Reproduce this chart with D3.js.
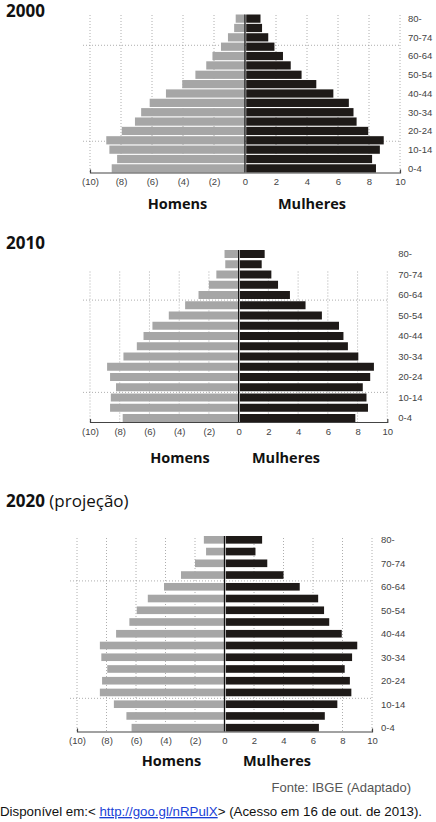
<!DOCTYPE html>
<html>
<head>
<meta charset="utf-8">
<script src="https://cdn.jsdelivr.net/npm/d3@7"></script>
<style>
  body { margin: 0; background: #fff; }
  svg { display: block; }
  .title { font-family: "Open Sans", sans-serif; font-size: 17px; fill: #111; }
  .sex { font-family: "Open Sans", sans-serif; font-weight: 700; font-size: 14.5px; fill: #111; }
  .age { font-family: "Liberation Sans", Arial, sans-serif; font-size: 9.5px; fill: #444; }
  .axis text { font-family: "Liberation Sans", Arial, sans-serif; font-size: 9.5px; fill: #444; }
  .axis path { stroke: #444; stroke-width: 1.2; }
  .grid { stroke: #999; stroke-width: 0.8; stroke-dasharray: 1,2; }
  .foot { font-family: "Liberation Sans", Arial, sans-serif; font-size: 13px; }
</style>
</head>
<body>
<svg id="chart" width="436" height="822"></svg>
<script>
const ageGroups = ["80-","75-79","70-74","65-69","60-64","55-59","50-54","45-49","40-44",
    "35-39","30-34","25-29","20-24","15-19","10-14","5-9","0-4"];
const ageLabels = ["80-","70-74","60-64","50-54","40-44","30-34","20-24","10-14","0-4"];

const tickValues = [-10,-8,-6,-4,-2,0,2,4,6,8,10];
const tickLabels = ["(10)","(8)","(6)","(4)","(2)","0","2","4","6","8","10"];

const homens2000   = [0.6,0.7,1.1,1.55,2.1,2.5,3.2,4.05,5.1,6.15,6.7,7.1,7.95,8.95,8.75,8.25,8.6];
const mulheres2000 = [1.0,1.1,1.5,1.9,2.45,2.95,3.65,4.6,5.7,6.7,7.0,7.2,7.95,8.95,8.7,8.2,8.45];
const homens2010   = [0.95,0.9,1.5,2.0,2.7,3.6,4.7,5.8,6.4,6.85,7.75,8.85,8.65,8.25,8.6,8.65,7.8];
const mulheres2010 = [1.75,1.55,2.2,2.65,3.45,4.5,5.6,6.75,7.05,7.35,8.05,9.1,8.85,8.35,8.6,8.7,7.85];
const homens2020   = [1.4,1.25,2.0,2.95,4.1,5.2,5.95,6.45,7.35,8.45,8.35,7.95,8.3,8.45,7.5,6.65,6.3];
const mulheres2020 = [2.55,2.1,2.9,4.0,5.1,6.35,6.75,7.1,7.95,9.0,8.65,8.15,8.5,8.6,7.65,6.8,6.4];

const colHomens = "#a6a6a6";
const colMulheres = "#1e1a18";

const svg = d3.select("#chart");

const charts = [
    {year: "2000", note: "", homens: homens2000, mulheres: mulheres2000,
     titleY: 16.5, xLeft: 90, xRight: 400, top: 14.5, bottom: 172.5, pad: 0.12, gridTop: 15,
     refs: [["65-69", 0.35], ["15-19", 0.6]], ageDx: 8,
     sexY: 208.5, homX: 177.5, mulX: 312},
    {year: "2010", note: "", homens: homens2010, mulheres: mulheres2010,
     titleY: 249, xLeft: 90, xRight: 387.3, top: 250, bottom: 422, pad: 0.22, gridTop: 271.5,
     refs: [["55-59", 0], ["10-14", 0]], ageDx: 11,
     sexY: 462.5, homX: 180, mulX: 286},
    {year: "2020", note: " (projeção)", homens: homens2020, mulheres: mulheres2020,
     titleY: 506.5, xLeft: 77, xRight: 372, top: 536, bottom: 731.5, pad: 0.35, gridTop: 538,
     refs: [["60-64", 0], ["10-14", 0]], ageDx: 9,
     sexY: 765.5, homX: 171.5, mulX: 277}
];

charts.forEach(drawPyramid);

function drawPyramid(c) {
    const g = svg.append("g").attr("class", "pyramid");

    const x = d3.scaleLinear().domain([-10, 10]).range([c.xLeft, c.xRight]);
    const y = d3.scaleBand().domain(ageGroups).range([c.top, c.bottom])
        .paddingInner(c.pad).paddingOuter(0);
    const gap = y.step() - y.bandwidth();
    const rowTop = a => y(a) - gap / 2;

    // title
    const t = g.append("text").attr("class", "title")
        .attr("x", 6).attr("y", c.titleY);
    t.append("tspan").attr("font-weight", 700).text(c.year);
    if (c.note) t.append("tspan").attr("font-weight", 400).text(c.note);

    // dotted grid
    g.selectAll(".vgrid")
        .data(tickValues.filter(v => v !== 0))
        .enter().append("line")
        .attr("class", "grid")
        .attr("x1", d => x(d)).attr("x2", d => x(d))
        .attr("y1", c.gridTop).attr("y2", c.bottom);

    g.selectAll(".hgrid")
        .data(c.refs)
        .enter().append("line")
        .attr("class", "grid")
        .attr("x1", x(-10) - 7).attr("x2", x(10))
        .attr("y1", d => rowTop(d[0]) + d[1] * y.step())
        .attr("y2", d => rowTop(d[0]) + d[1] * y.step());

    // bars
    g.selectAll(".homens")
        .data(c.homens)
        .enter().append("rect")
        .attr("fill", colHomens)
        .attr("x", d => x(-d))
        .attr("width", d => x(0) - x(-d))
        .attr("y", (d, i) => y(ageGroups[i]))
        .attr("height", y.bandwidth());

    g.selectAll(".mulheres")
        .data(c.mulheres)
        .enter().append("rect")
        .attr("fill", colMulheres)
        .attr("x", x(0) + 1.2)
        .attr("width", d => x(d) - x(0) - 1.2)
        .attr("y", (d, i) => y(ageGroups[i]))
        .attr("height", y.bandwidth());

    // centre line
    g.append("line")
        .attr("x1", x(0)).attr("x2", x(0))
        .attr("y1", c.top).attr("y2", c.bottom)
        .attr("stroke", "#111").attr("stroke-width", 1.3);

    // axis
    g.append("g").attr("class", "axis")
        .attr("transform", `translate(0,${c.bottom})`)
        .call(d3.axisBottom(x)
            .tickValues(tickValues)
            .tickFormat((d, i) => tickLabels[i])
            .tickSizeInner(0).tickSizeOuter(-3).tickPadding(6))
        .call(a => a.selectAll(".tick line").remove());

    // age labels
    g.selectAll(".age")
        .data(ageLabels)
        .enter().append("text")
        .attr("class", "age")
        .attr("x", x(10) + c.ageDx)
        .attr("y", d => y(d) + y.bandwidth() / 2)
        .attr("dy", "0.35em")
        .text(d => d);

    g.append("text").attr("class", "sex")
        .attr("x", c.homX).attr("y", c.sexY)
        .attr("text-anchor", "middle").text("Homens");
    g.append("text").attr("class", "sex")
        .attr("x", c.mulX).attr("y", c.sexY)
        .attr("text-anchor", "middle").text("Mulheres");
}

// footer
svg.append("text").attr("class", "foot")
    .attr("x", 411).attr("y", 792)
    .attr("text-anchor", "end").attr("fill", "#555")
    .text("Fonte: IBGE (Adaptado)");

const disp = svg.append("text").attr("class", "foot")
    .attr("x", 0).attr("y", 816).attr("fill", "#111")
    .style("font-size", "13.3px");
disp.append("tspan").text("Disponível em:< ");
disp.append("tspan").attr("fill", "#1a3fd6")
    .attr("text-decoration", "underline").text("http://goo.gl/nRPulX");
disp.append("tspan").text("> (Acesso em 16 de out. de 2013).");
</script>
</body>
</html>
